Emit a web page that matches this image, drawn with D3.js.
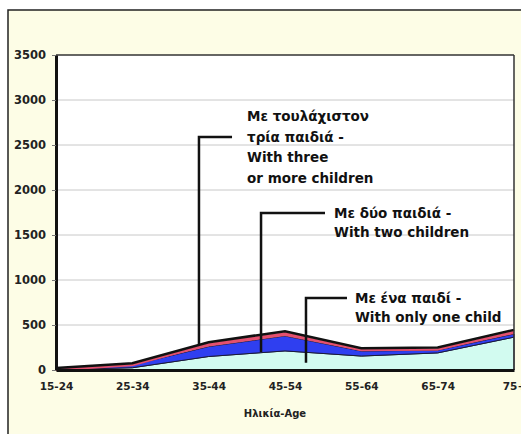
<!DOCTYPE html>
<html><head><meta charset="utf-8">
<script src="https://cdn.jsdelivr.net/npm/d3@7"></script>
<style>html,body{margin:0;padding:0;background:#fff;}svg{display:block;}</style>
</head><body><svg id="c" width="521" height="434"></svg>
<script>
const categories = ["15-24","25-34","35-44","45-54","55-64","65-74","75+"];
const oneChild = [5, 25, 150, 212, 155, 190, 365];
const twoChildren = [3, 30, 110, 166, 55, 30, 35];
const threePlus = [2, 10, 38, 42, 20, 20, 35];
const yTicks = [0, 500, 1000, 1500, 2000, 2500, 3000, 3500];
const seriesNames = ["oneChild","twoChildren","threePlus"];
const seriesColors = ["#d2fbf0", "#2f3ff0", "#e4506e"];
const labels = [
  {lines:["Με τουλάχιστον","τρία παιδιά -","With three","or more children"], at:1.873, end:2.306, top:2590, bottom:290, gap:15, anchorLine:1},
  {lines:["Με δύο παιδιά -","With two children"], at:2.686, end:3.524, top:1745, bottom:200, gap:9, anchorLine:0},
  {lines:["Με ένα παιδί -","With only one child"], at:3.275, end:3.812, top:800, bottom:80, gap:8, anchorLine:0}
];
const axisTitle = "Ηλικία-Age";

const svg = d3.select("#c");
const W = 521, H = 434;
const L = 56, R = 514, T = 55, B = 370;
// frame
svg.append("rect").attr("x",8).attr("y",10).attr("width",W).attr("height",H)
  .attr("fill","#fdfde6").attr("stroke","#222").attr("stroke-width",1.5);

const x = d3.scalePoint().domain(categories).range([L,R]);
const xi = d3.scaleLinear().domain([0,categories.length-1]).range([L,R]);
const y = d3.scaleLinear().domain([0,3500]).range([B,T]);

svg.append("rect").attr("x",L).attr("y",T).attr("width",R-L).attr("height",B-T).attr("fill","#fff");

// grid
svg.append("g").selectAll("line").data(yTicks.filter(d=>d>0 && d<3500)).join("line")
  .attr("x1",L).attr("x2",R).attr("y1",d=>y(d)).attr("y2",d=>y(d))
  .attr("stroke","#c8c8c8").attr("stroke-width",1);

const table = categories.map((c,i)=>({cat:c, oneChild:oneChild[i], twoChildren:twoChildren[i], threePlus:threePlus[i]}));
const stack = d3.stack().keys(seriesNames)(table);
const area = d3.area().x(d=>x(d.data.cat)).y0(d=>y(d[0])).y1(d=>y(d[1]));
svg.append("g").selectAll("path").data(stack).join("path")
  .attr("d",area).attr("fill",(d,i)=>seriesColors[i])
  .attr("stroke",(d,i)=> i===2 ? "none" : "#1a1a3a").attr("stroke-width",1);
// red top line
svg.append("path").datum(stack[2]).attr("fill","none").attr("stroke","#e4506e").attr("stroke-width",2)
  .attr("d",d3.line().x(d=>x(d.data.cat)).y(d=>y(d[1])+1));
// black outline on total
svg.append("path").datum(stack[2]).attr("fill","none").attr("stroke","#111").attr("stroke-width",2.5)
  .attr("d",d3.line().x(d=>x(d.data.cat)).y(d=>y(d[1])-1));

// plot border
svg.append("line").attr("x1",L).attr("x2",R).attr("y1",T).attr("y2",T).attr("stroke","#333").attr("stroke-width",1.5);
svg.append("line").attr("x1",R).attr("x2",R).attr("y1",T).attr("y2",B).attr("stroke","#333").attr("stroke-width",1.5);

// axes
const yAxis = svg.append("g").attr("transform",`translate(${L},0)`)
  .call(d3.axisLeft(y).tickValues(yTicks).tickSize(4).tickSizeOuter(0).tickPadding(6).tickFormat(d3.format("d")));
yAxis.select(".domain").attr("stroke","#111").attr("stroke-width",3);
yAxis.selectAll(".tick line").attr("stroke","#777");
yAxis.selectAll("text").attr("font-family","DejaVu Sans").attr("font-weight","bold").attr("font-size",11.5).attr("fill","#222");

const xAxis = svg.append("g").attr("transform",`translate(0,${B})`)
  .call(d3.axisBottom(x).tickSize(0).tickSizeOuter(0).tickPadding(13));
xAxis.select(".domain").attr("stroke","#111").attr("stroke-width",3);
xAxis.selectAll("text").attr("font-family","DejaVu Sans").attr("font-weight","bold").attr("font-size",10.5).attr("fill","#222");

svg.append("text").attr("x",275).attr("y",417).attr("text-anchor","middle")
  .attr("font-family","DejaVu Sans").attr("font-weight","bold").attr("font-size",10).attr("fill","#222").text(axisTitle);

// leader lines & labels
labels.forEach(lb=>{
  const px = xi(lb.at), pe = xi(lb.end), pt = y(lb.top), pb = y(lb.bottom);
  svg.append("path").attr("d",`M${pe},${pt}H${px}V${pb}`).attr("fill","none").attr("stroke","#111").attr("stroke-width",2.5);
  const t = svg.append("text").attr("font-family","DejaVu Sans").attr("font-weight","bold").attr("font-size",13.5).attr("fill","#111");
  const lh = lb.lines.length === 4 ? 20.5 : 19;
  lb.lines.forEach((s,i)=>{
    t.append("tspan").attr("x",pe+lb.gap).attr("y", pt + 5 + (i - lb.anchorLine)*lh).text(s);
  });
});
</script></body></html>
